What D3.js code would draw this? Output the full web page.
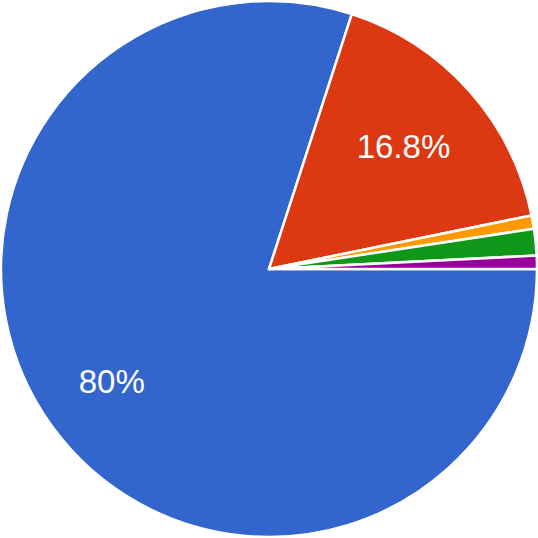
<!DOCTYPE html>
<html>
<head>
<meta charset="utf-8">
<script src="https://cdn.jsdelivr.net/npm/d3@7"></script>
<style>
  html, body { margin: 0; padding: 0; background: #fff; }
  svg { display: block; }
</style>
</head>
<body>
<div id="chart"></div>
<script>
const categories = ['A', 'B', 'C', 'D', 'E'];
const values = [80, 16.8, 0.8, 1.6, 0.8];
const labels = ['80%', '16.8%', '', '', ''];
const colors = ['#3366cc', '#dc3912', '#ff9900', '#109618', '#990099'];

const width = 538, height = 538;
const radius = 268;

const svg = d3.select('#chart').append('svg')
  .attr('width', width)
  .attr('height', height);

const g = svg.append('g')
  .attr('transform', `translate(${width / 2},${height / 2})`);

const data = categories.map((c, i) => ({ name: c, value: values[i], label: labels[i], color: colors[i] }));

// blue slice starts at 3 o'clock and runs clockwise
const pie = d3.pie()
  .sort(null)
  .value(d => d.value)
  .startAngle(Math.PI / 2)
  .endAngle(Math.PI / 2 + 2 * Math.PI);

const arc = d3.arc().innerRadius(0).outerRadius(radius);
const labelArc = d3.arc().innerRadius(radius * 0.7).outerRadius(radius * 0.7);

const arcs = pie(data);

g.selectAll('path')
  .data(arcs)
  .enter()
  .append('path')
    .attr('d', arc)
    .attr('fill', d => d.data.color)
    .attr('stroke', '#fff')
    .attr('stroke-width', 2.5)
    .attr('stroke-linejoin', 'round');

g.selectAll('text')
  .data(arcs.filter(d => d.data.label))
  .enter()
  .append('text')
    .attr('transform', d => `translate(${labelArc.centroid(d)})`)
    .attr('dx', -5.5)
    .attr('dy', 2.5)
    .attr('text-anchor', 'middle')
    .attr('dominant-baseline', 'central')
    .attr('fill', '#fff')
    .style('font-family', 'Arial, "Liberation Sans", sans-serif')
    .style('font-size', '33px')
    .text(d => d.data.label);
</script>
</body>
</html>
